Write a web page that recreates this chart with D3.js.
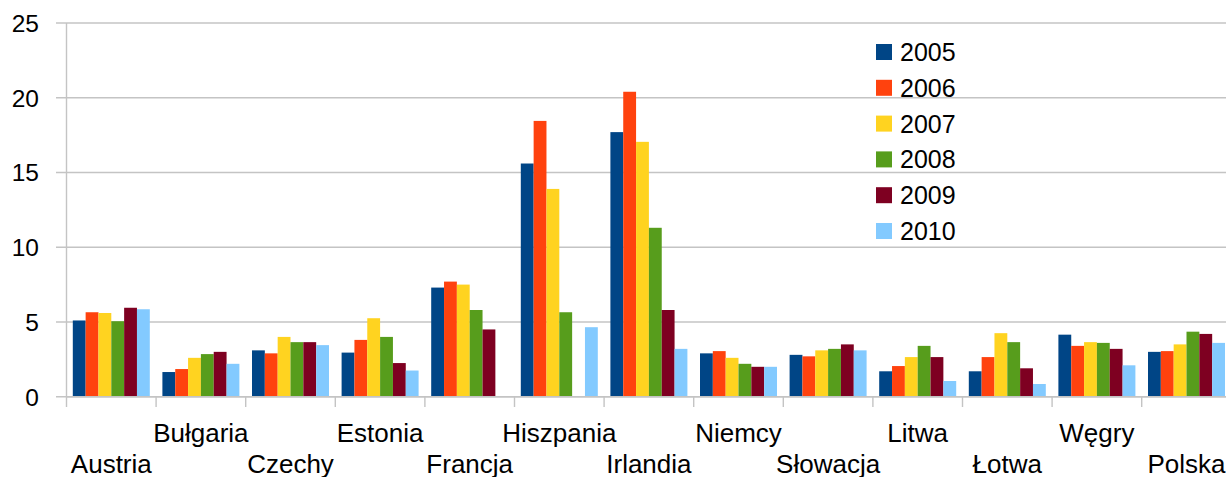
<!DOCTYPE html>
<html>
<head>
<meta charset="utf-8">
<script src="https://cdn.jsdelivr.net/npm/d3@7"></script>
<style>
  html, body { margin: 0; padding: 0; background: #fff; }
  svg { display: block; }
  text { font-family: "Liberation Sans", Arial, sans-serif; fill: #000; }
</style>
</head>
<body>
<svg id="chart" width="1226" height="477"></svg>
<script>
// Countries along the x axis
const categories = ["Austria", "Bułgaria", "Czechy", "Estonia", "Francja", "Hiszpania", "Irlandia",
  "Niemcy", "Słowacja", "Litwa", "Łotwa", "Węgry", "Polska"];

// One series per year, one value per country
const years = ["2005", "2006", "2007", "2008", "2009", "2010"];
const v2005 = [5.1, 1.65, 3.1, 2.95, 7.3, 15.6, 17.7, 2.9, 2.8, 1.7, 1.7, 4.15, 3.0];
const v2006 = [5.65, 1.85, 2.9, 3.8, 7.7, 18.45, 20.4, 3.05, 2.7, 2.05, 2.65, 3.4, 3.05];
const v2007 = [5.6, 2.6, 4.0, 5.25, 7.5, 13.9, 17.05, 2.6, 3.1, 2.65, 4.25, 3.65, 3.5];
const v2008 = [5.05, 2.85, 3.65, 4.0, 5.8, 5.65, 11.3, 2.2, 3.2, 3.4, 3.65, 3.6, 4.35];
const v2009 = [5.95, 3.0, 3.65, 2.25, 4.5, 0, 5.8, 2.0, 3.5, 2.65, 1.9, 3.2, 4.2];
const v2010 = [5.85, 2.2, 3.45, 1.75, 0, 4.65, 3.2, 2.0, 3.1, 1.05, 0.85, 2.1, 3.6];
const seriesValues = [v2005, v2006, v2007, v2008, v2009, v2010];
const colors = ["#004586", "#ff420e", "#ffd320", "#579d1c", "#7e0021", "#83caff"];

// Value axis ticks
const yTicks = [0, 5, 10, 15, 20, 25];

const svg = d3.select("#chart");

const x0 = 66.5, step = 89.6;
const x = d3.scaleBand().domain(categories).range([x0, x0 + step * categories.length]);
const xs = d3.scaleBand().domain(years).range([6.3, step - 6.3]);
const y = d3.scaleLinear().domain([0, 25]).range([396.7, 23]);
const right = x0 + step * categories.length;

// Horizontal gridlines with short ticks to the left of the axis
svg.append("g").selectAll("line").data(yTicks).join("line")
  .attr("x1", 56).attr("x2", right)
  .attr("y1", d => y(d)).attr("y2", d => y(d))
  .attr("stroke", "#c4c4c4").attr("stroke-width", 1.4);

// Value labels
svg.append("g").selectAll("text").data(yTicks).join("text")
  .attr("x", 39).attr("y", d => y(d)).attr("dy", "0.36em")
  .attr("text-anchor", "end").style("font-size", "24.5px")
  .text(d => d);

// Bars
const groups = svg.append("g").selectAll("g").data(categories).join("g")
  .attr("transform", c => `translate(${x(c)},0)`);
groups.selectAll("rect")
  .data((c, i) => years.map((yr, k) => ({ yr, k, v: seriesValues[k][i] })))
  .join("rect")
  .filter(d => d.v > 0)
  .attr("x", d => xs(d.yr))
  .attr("width", xs.bandwidth())
  .attr("y", d => y(d.v))
  .attr("height", d => y(0) - y(d.v))
  .attr("fill", d => colors[d.k]);

// Axis lines and category separators
svg.append("line").attr("x1", x0).attr("x2", x0).attr("y1", 23).attr("y2", 407)
  .attr("stroke", "#c4c4c4").attr("stroke-width", 1.4);
svg.append("line").attr("x1", x0).attr("x2", right).attr("y1", y(0)).attr("y2", y(0))
  .attr("stroke", "#c4c4c4").attr("stroke-width", 1.4);
svg.append("g").selectAll("line").data(categories.slice(1).concat(["__end"])).join("line")
  .attr("x1", (c, i) => x0 + step * (i + 1)).attr("x2", (c, i) => x0 + step * (i + 1))
  .attr("y1", y(0)).attr("y2", 407)
  .attr("stroke", "#c4c4c4").attr("stroke-width", 1.4);

// Category labels, staggered on two rows
svg.append("g").selectAll("text").data(categories).join("text")
  .attr("x", c => x(c) + step / 2)
  .attr("y", (c, i) => i % 2 === 0 ? 472.5 : 441.5)
  .attr("text-anchor", "middle").style("font-size", "26px")
  .text(c => c);

// Legend
const legend = svg.append("g").selectAll("g").data(years).join("g")
  .attr("transform", (d, i) => `translate(876,${52 + i * 35.8})`);
legend.append("rect").attr("x", 0).attr("y", -8).attr("width", 16).attr("height", 16)
  .attr("fill", (d, i) => colors[i]);
legend.append("text").attr("x", 24).attr("y", 0).attr("dy", "0.36em")
  .style("font-size", "25px").text(d => d);
</script>
</body>
</html>
